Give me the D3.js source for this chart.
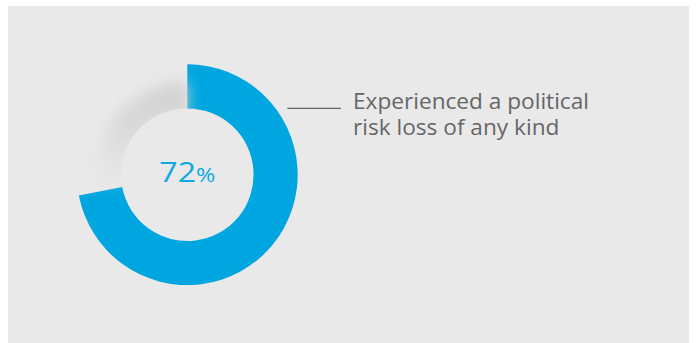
<!DOCTYPE html>
<html>
<head>
<meta charset="utf-8">
<script src="https://cdn.jsdelivr.net/npm/d3@7"></script>
<style>
  html, body { margin: 0; padding: 0; background: #ffffff; }
  svg { display: block; }
</style>
</head>
<body>
<svg id="chart" width="696" height="343"></svg>
<script>
// Share of respondents, in percent
const shareValues = [72];
const shareTotal = [100];
const labelLines = ["Experienced a political", "risk loss of any kind"];

const width = 696, height = 343;
const svg = d3.select("#chart");
const fontStack = "'Open Sans', Lato, sans-serif";

// panel
svg.append("rect")
  .attr("x", 8).attr("y", 6)
  .attr("width", 681).attr("height", 337)
  .attr("fill", "#e9e9e9");

const cx = 187.3, cy = 174.7;
const outerR = 110.4, innerR = 66.3;

const angle = d3.scaleLinear().domain([0, shareTotal[0]]).range([0, 2 * Math.PI]);

const defs = svg.append("defs");
defs.append("filter").attr("id", "soft")
  .attr("x", "-50%").attr("y", "-50%").attr("width", "200%").attr("height", "200%")
  .append("feGaussianBlur").attr("stdDeviation", 7);

// keep the shadow outside the inner disc
const clip = defs.append("clipPath").attr("id", "ringClip");
clip.append("path")
  .attr("d", d3.arc()({innerRadius: innerR, outerRadius: outerR + 40, startAngle: 0, endAngle: 2 * Math.PI}))
  .attr("transform", `translate(${cx},${cy})`);

const grad = defs.append("linearGradient").attr("id", "shadeFade")
  .attr("gradientUnits", "userSpaceOnUse")
  .attr("x1", cx + 10).attr("y1", cy - 100)
  .attr("x2", cx - 100).attr("y2", cy + 20);
grad.append("stop").attr("offset", 0).attr("stop-color", "#cfcfcf").attr("stop-opacity", 1);
grad.append("stop").attr("offset", 0.55).attr("stop-color", "#d6d6d6").attr("stop-opacity", 0.8);
grad.append("stop").attr("offset", 1).attr("stop-color", "#e9e9e9").attr("stop-opacity", 0);

const g = svg.append("g").attr("transform", `translate(${cx},${cy})`);

// soft shadow in the unfilled part of the ring
svg.append("g").attr("clip-path", "url(#ringClip)")
  .append("path")
  .attr("d", d3.arc()({
    innerRadius: innerR - 6, outerRadius: innerR + 26,
    startAngle: angle(shareValues[0]) + 0.05, endAngle: 2 * Math.PI
  }))
  .attr("fill", "url(#shadeFade)")
  .attr("filter", "url(#soft)")
  .attr("transform", `translate(${cx},${cy})`);

// value arc
const pie = d3.pie().sort(null).value(d => d);
const arcs = pie([shareValues[0], shareTotal[0] - shareValues[0]]);
g.selectAll("path.val")
  .data([arcs[0]])
  .join("path")
  .attr("class", "val")
  .attr("d", d3.arc().innerRadius(innerR).outerRadius(outerR))
  .attr("fill", "#00a6e0");

// centre value, widened a little to the wide display figures
const center = g.append("text")
  .attr("text-anchor", "middle")
  .attr("y", 7)
  .attr("font-family", fontStack)
  .attr("fill", "#10a8e0");
center.append("tspan").attr("font-size", 27.5).text(shareValues[0]);
center.append("tspan").attr("font-size", 20).text("%");
center.attr("textLength", 56).attr("lengthAdjust", "spacingAndGlyphs");

// leader line
svg.append("line")
  .attr("x1", 287.3).attr("x2", 341)
  .attr("y1", 108.3).attr("y2", 108.3)
  .attr("stroke", "#666")
  .attr("stroke-width", 1.3);

// label
const label = svg.append("text")
  .attr("x", 353)
  .attr("y", 108.5)
  .attr("font-family", fontStack)
  .attr("font-size", 21)
  .attr("fill", "#666666");
const lines = label.selectAll("tspan")
  .data(labelLines)
  .join("tspan")
  .attr("x", 353)
  .attr("dy", (d, i) => i === 0 ? 0 : 26.7)
  .text(d => d);
const firstLen = lines.nodes()[0].getComputedTextLength();
const k = 236 / firstLen;
lines.each(function () {
  const w = this.getComputedTextLength();
  d3.select(this).attr("textLength", w * k).attr("lengthAdjust", "spacingAndGlyphs");
});
</script>
</body>
</html>
